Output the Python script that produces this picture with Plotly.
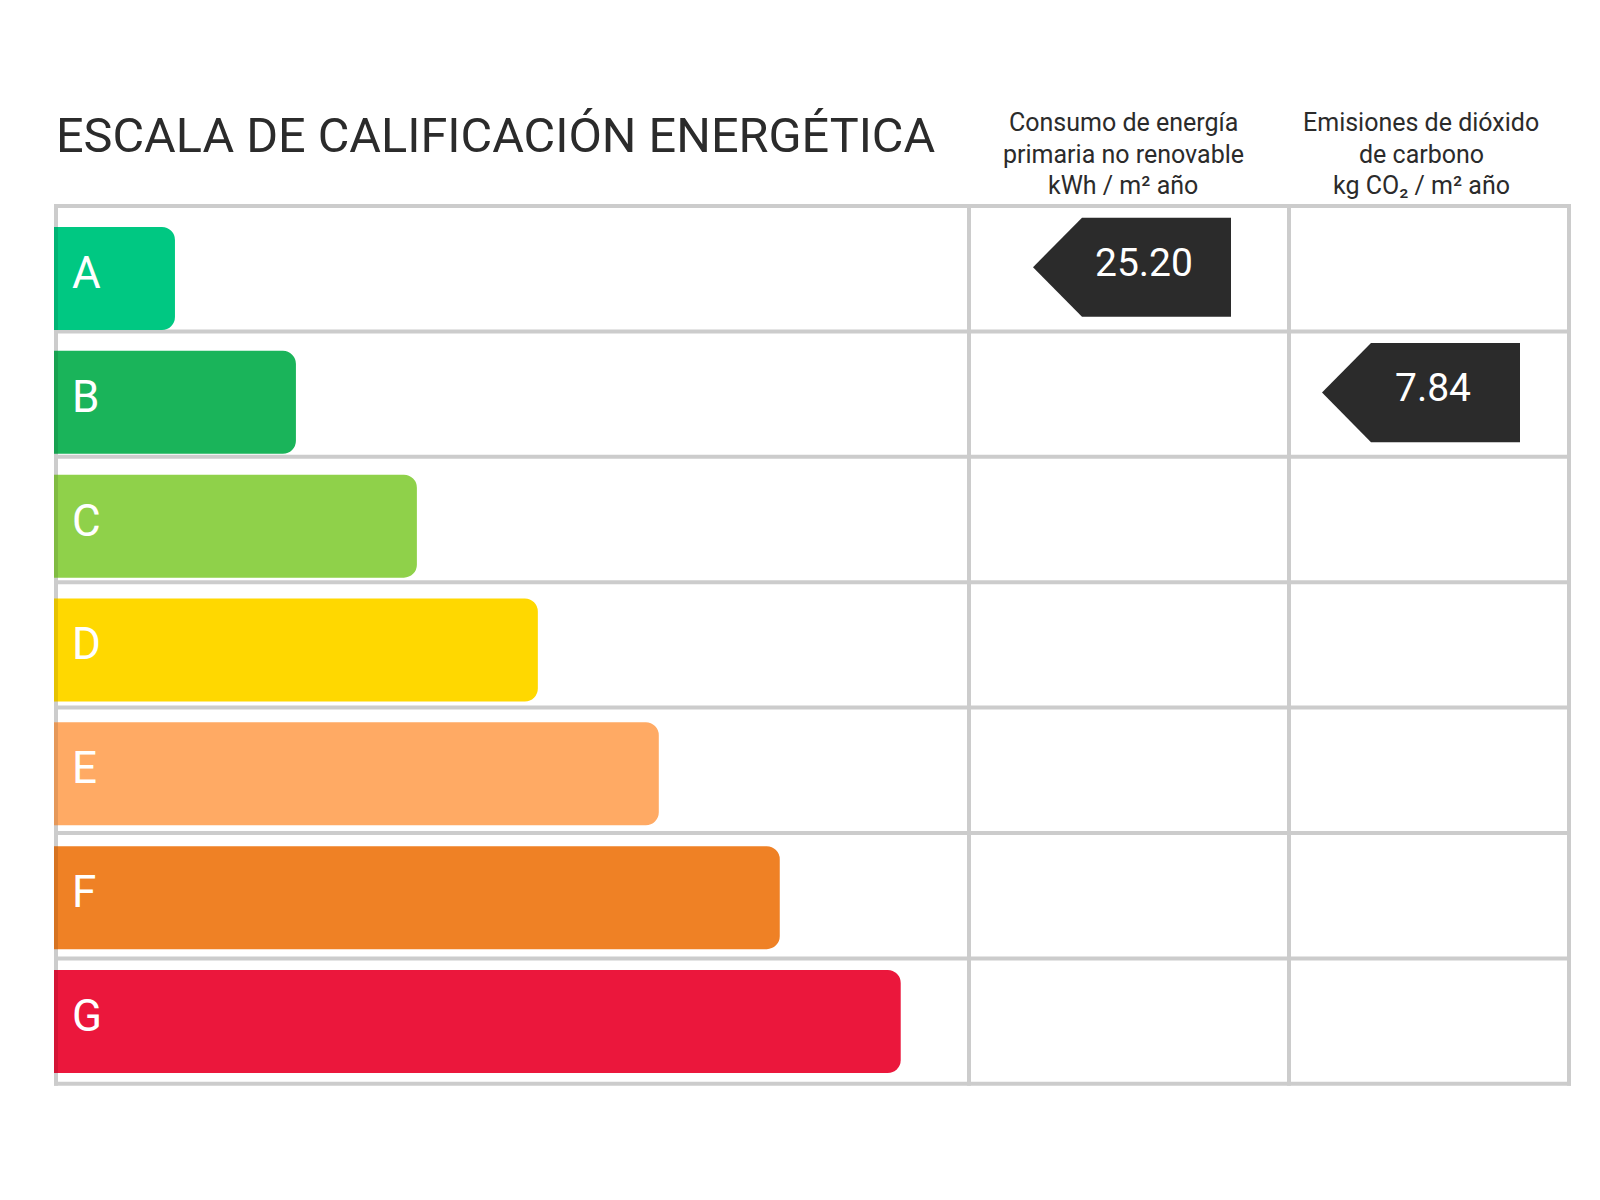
import plotly.graph_objects as go

# Energy rating scale data
ratings = ["A", "B", "C", "D", "E", "F", "G"]
bar_lengths = [1, 2, 3, 4, 5, 6, 7]
bar_colors = ["#00c882", "#1ab45a", "#8fd14a", "#ffd800", "#ffaa64", "#ef8125", "#eb173c"]

title_text = "ESCALA DE CALIFICACIÓN ENERGÉTICA"
header_consumo = ["Consumo de energía", "primaria no renovable", "kWh / m² año"]
header_emisiones = ["Emisiones de dióxido", "de carbono", "kg CO₂ / m² año"]

# Building values and the rating they fall in
consumo_rating = "A"
consumo_value = 25.20
emisiones_rating = "B"
emisiones_value = 7.84

W, H = 1600, 1200
OFF = 8  # page margin around the plot div
FONT = "Roboto"
DARK = "#2b2b2b"
GRID = "#cccccc"


def px_x(p):
    return (p - OFF) / W


def px_y(p):
    return 1 - (p - OFF) / H


fig = go.Figure()

# Bars: one scale step per rating, rounded at the right end
fig.add_trace(go.Bar(
    x=bar_lengths,
    y=ratings,
    orientation="h",
    width=0.832,
    marker=dict(color=bar_colors, cornerradius=13, line_width=0),
    hoverinfo="skip",
))

shapes = []
annotations = []

# Table grid (rows on yaxis2, one row per rating)
col_lines = [56, 969, 1289, 1569]
n_rows = len(ratings)
for k in range(n_rows + 1):
    shapes.append(dict(type="line", xref="paper", yref="y2",
                       x0=px_x(54), x1=px_x(1571), y0=k - 0.5, y1=k - 0.5,
                       line=dict(color=GRID, width=4), layer="below"))
for c in col_lines:
    shapes.append(dict(type="line", xref="paper", yref="y2",
                       x0=px_x(c), x1=px_x(c), y0=-0.516, y1=n_rows - 0.484,
                       line=dict(color=GRID, width=4), layer="below"))

# darker strip where the bars sit over the left border, plus the letters
for r in ratings:
    i = ratings.index(r)
    shapes.append(dict(type="rect", xref="paper", yref="y",
                       x0=px_x(54), x1=px_x(58), y0=i - 0.416, y1=i + 0.416,
                       fillcolor="rgba(0,0,0,0.10)", line_width=0, layer="above"))
    annotations.append(dict(text=r, xref="paper", yref="y", x=px_x(70), y=r,
                            xanchor="left", yanchor="middle", yshift=5.5,
                            showarrow=False,
                            font=dict(family=FONT, size=44, color="white")))


# value indicators (arrow pointing left)
def indicator(rating, value, tip_px):
    i = ratings.index(rating)
    yc = i - 0.012
    hh = 0.395
    tip = px_x(tip_px)
    shoulder = px_x(tip_px + 49)
    right = px_x(tip_px + 198)
    path = (f"M {tip},{yc} L {shoulder},{yc - hh} L {right},{yc - hh} "
            f"L {right},{yc + hh} L {shoulder},{yc + hh} Z")
    shapes.append(dict(type="path", xref="paper", yref="y2", path=path,
                       fillcolor=DARK, line_width=0, layer="above"))
    annotations.append(dict(text=f"{value:.2f}", xref="paper", yref="y2",
                            x=px_x(tip_px + 110.5), y=i, yshift=6,
                            xanchor="center", yanchor="middle", showarrow=False,
                            font=dict(family=FONT, size=39, color="white")))


indicator(consumo_rating, consumo_value, 1033)
indicator(emisiones_rating, emisiones_value, 1322)

# title
annotations.append(dict(text=title_text, xref="paper", yref="paper",
                        x=px_x(54), y=px_y(135), xanchor="left", yanchor="middle",
                        showarrow=False, font=dict(family=FONT, size=48.6, color=DARK)))

# column headers
header_mid = [122.4, 154, 185.8]
for lines, cx in [(header_consumo, 1123), (header_emisiones, 1421)]:
    for txt, ym in zip(lines, header_mid):
        annotations.append(dict(text=txt, xref="paper", yref="paper",
                                x=px_x(cx), y=px_y(ym), xanchor="center", yanchor="middle",
                                showarrow=False, font=dict(family=FONT, size=25, color=DARK)))

# bar axes: 0 at the left table edge, one unit per rating step
unit = 120.96
bar_x0 = 54 - OFF
bar_y0, bar_step = 278.5 - OFF, 123.83
row_y0, row_step = 268.7 - OFF, 125.4

fig.update_layout(
    width=W, height=H,
    margin=dict(l=0, r=0, t=0, b=0),
    paper_bgcolor="white",
    plot_bgcolor="white",
    showlegend=False,
    shapes=shapes,
    annotations=annotations,
    xaxis=dict(range=[-bar_x0 / unit, (W - bar_x0) / unit], visible=False, fixedrange=True),
    yaxis=dict(type="category", categoryorder="array", categoryarray=ratings,
               range=[(H - bar_y0) / bar_step, -bar_y0 / bar_step],
               visible=False, fixedrange=True),
    yaxis2=dict(range=[(H - row_y0) / row_step, -row_y0 / row_step],
                overlaying="y", visible=False, fixedrange=True),
)

fig.write_html("out.html")
